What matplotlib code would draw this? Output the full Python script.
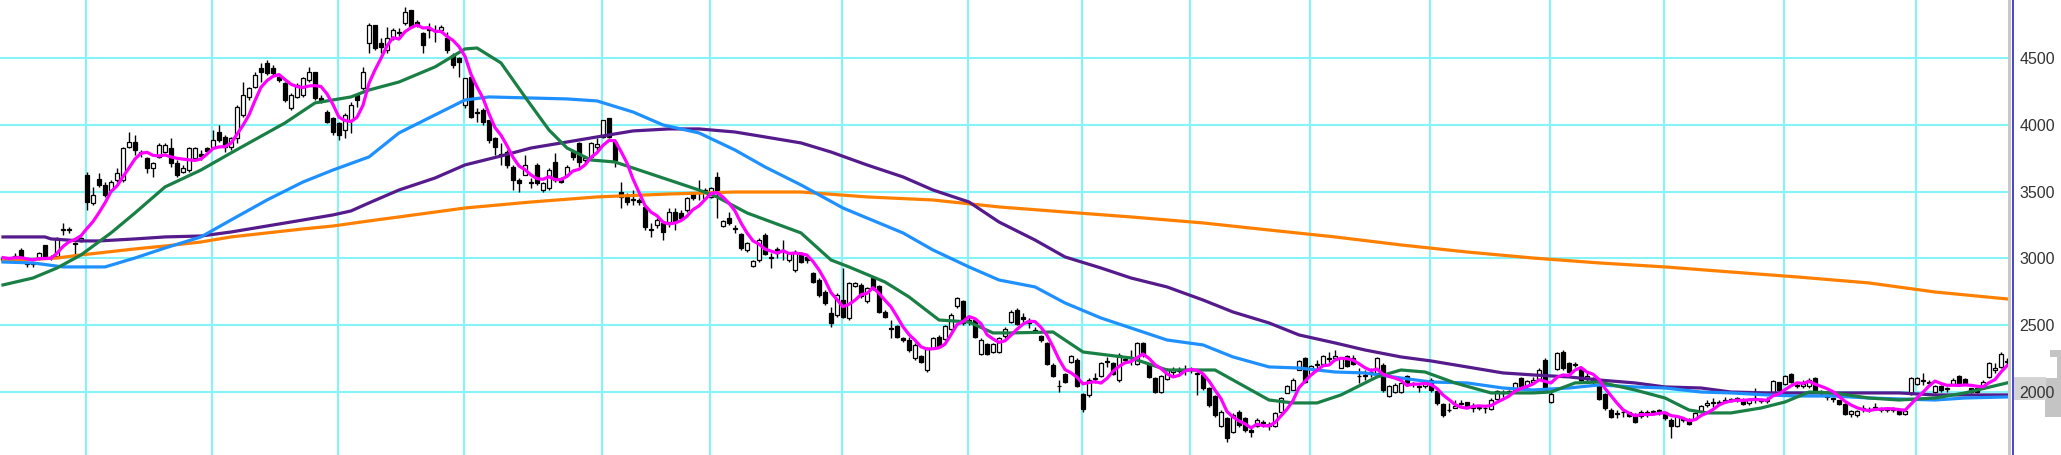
import numpy as np
import pandas as pd
import matplotlib
matplotlib.use("Agg")
import matplotlib.pyplot as plt
from matplotlib.lines import Line2D
from matplotlib.patches import Polygon, Rectangle

# ---------------- data (daily OHLC) ----------------
opens = [
 2985,2997,2990,3062,2960,2955,2995,3097,3000,3015,
 3215,3212,3115,3135,3625,3412,3592,3550,3512,3587,
 3587,3837,3875,3800,3750,3675,3762,3800,3825,3712,
 3650,3662,3750,3780,3830,3837,3950,3912,3837,3900,
 4075,4212,4287,4425,4462,4425,4362,4312,4125,4212,
 4225,4337,4400,4200,4100,4050,4012,3962,4037,4225,
 4275,4612,4750,4612,4562,4650,4687,4762,4862,4770,
 4687,4725,4715,4712,4650,4525,4500,4150,4362,4100,
 4112,4037,3900,3785,3800,3687,3587,3625,3562,3700,
 3512,3525,3725,3587,3625,3800,3862,3737,3762,3837,
 3912,4050,3875,3500,3462,3440,3437,3387,3215,3250,
 3262,3275,3350,3337,3362,3487,3487,3450,3462,3612,
 3240,3300,3230,3180,3060,2945,2985,3175,3010,3070,
 3060,2985,2910,3040,3010,2890,2840,2750,2587,2575,
 2687,2550,2795,2800,2680,2850,2790,2600,2475,2490,
 2400,2390,2250,2270,2160,2330,2410,2395,2470,2640,
 2680,2530,2540,2285,2355,2295,2295,2420,2520,2615,
 2560,2520,2465,2420,2365,2200,2045,2130,2220,2240,
 1980,1975,2095,2120,2230,2215,2085,2245,2255,2210,
 2365,2205,2100,2000,2095,2150,2155,2160,2165,2140,
 2125,2025,1965,1745,1800,1700,1850,1800,1710,1745,
 1775,1755,1745,1845,1990,2015,2165,2250,2130,2200,
 2205,2245,2255,2180,2265,2255,2115,2125,2145,2140,
 2200,1970,2000,1995,2115,2055,2035,2040,2085,2005,
 1905,1860,1880,1905,1920,1880,1880,1875,1870,1945,
 1990,1995,2010,2100,2040,2075,2095,2240,1925,2170,
 2300,2215,2200,2180,2105,2090,2040,1980,1865,1835,
 1845,1845,1830,1815,1840,1850,1855,1850,1790,1745,
 1800,1795,1795,1855,1900,1915,1915,1925,1935,1935,
 1940,1915,1950,1940,1930,1995,2070,2055,2130,2045,
 2045,2040,2105,2005,1975,1955,1935,1905,1830,1825,
 1870,1870,1885,1860,1860,1860,1860,1835,1985,2060,
 2080,2065,1995,2045,2020,2055,2115,2095,2025,2025,
 2030,2110,2165,2185,2225]
highs = [
 3012,3007,3037,3075,2975,2975,3050,3100,3025,3162,
 3262,3237,3125,3157,3650,3537,3637,3575,3587,3675,
 3837,3950,3925,3812,3762,3725,3862,3862,3900,3737,
 3700,3837,3837,3812,3837,3962,4000,3925,3912,4150,
 4325,4287,4400,4462,4487,4450,4375,4325,4237,4312,
 4362,4437,4400,4225,4112,4062,4025,4087,4175,4237,
 4437,4762,4750,4650,4737,4725,4725,4887,4862,4787,
 4700,4762,4750,4750,4700,4537,4512,4350,4362,4125,
 4125,4037,3912,3862,3812,3700,3600,3775,3600,3712,
 3575,3675,3787,3612,3700,3812,3875,3762,3875,3900,
 4037,4050,3875,3575,3487,3512,3450,3400,3262,3300,
 3275,3375,3375,3362,3462,3500,3587,3525,3537,3650,
 3287,3350,3250,3187,3125,2987,3150,3187,3037,3087,
 3137,3050,3062,3050,3025,2900,2850,2762,2637,2737,
 2925,2825,2825,2812,2787,2862,2800,2612,2537,2500,
 2412,2412,2362,2275,2337,2412,2425,2500,2587,2712,
 2687,2562,2550,2400,2362,2362,2412,2487,2612,2625,
 2587,2550,2487,2425,2375,2212,2087,2137,2275,2250,
 1987,2100,2137,2225,2262,2225,2287,2262,2312,2375,
 2375,2212,2112,2125,2175,2187,2187,2200,2187,2150,
 2137,2037,1975,1862,1812,1837,1862,1812,1737,1800,
 1790,1775,1850,1962,2050,2100,2237,2262,2200,2237,
 2275,2300,2312,2262,2275,2275,2175,2162,2175,2262,
 2212,2050,2062,2075,2125,2075,2050,2087,2100,2012,
 1912,1912,1937,1937,1925,1912,1900,1900,1950,2012,
 2012,2012,2075,2112,2087,2112,2175,2250,2012,2300,
 2312,2225,2225,2187,2137,2112,2050,1987,1875,1862,
 1862,1850,1837,1862,1862,1862,1867,1850,1800,1825,
 1812,1800,1850,1900,1937,1950,1937,1962,1950,1962,
 1950,1950,2025,1950,1962,2087,2075,2125,2137,2075,
 2087,2100,2112,2012,1975,1962,1937,1912,1862,1862,
 1900,1887,1912,1887,1887,1887,1862,1862,2112,2112,
 2137,2087,2050,2050,2037,2100,2125,2100,2025,2025,
 2087,2225,2212,2300,2250]
lows = [
 2975,2982,2975,2997,2937,2937,2987,3012,2987,3012,
 3175,3187,3012,3125,3362,3400,3537,3462,3500,3575,
 3575,3825,3775,3762,3637,3612,3750,3787,3687,3612,
 3637,3650,3737,3737,3787,3825,3875,3800,3812,3862,
 4062,4187,4275,4325,4375,4375,4325,4175,4112,4200,
 4212,4325,4187,4162,4012,3925,3887,3900,3937,4137,
 4262,4537,4562,4537,4537,4637,4662,4750,4725,4737,
 4537,4650,4625,4687,4537,4425,4362,4125,4050,4025,
 4000,3862,3775,3700,3675,3512,3500,3625,3525,3550,
 3500,3512,3575,3562,3612,3737,3687,3712,3737,3812,
 3900,3900,3687,3375,3400,3400,3400,3212,3162,3225,
 3137,3237,3212,3287,3350,3437,3437,3437,3450,3300,
 3237,3250,3187,3062,3050,2937,2975,3025,2925,3000,
 2987,2975,2900,2962,2962,2812,2712,2650,2487,2562,
 2550,2537,2787,2700,2662,2762,2587,2550,2400,2400,
 2375,2300,2237,2212,2150,2325,2337,2387,2462,2630,
 2500,2500,2400,2275,2275,2287,2287,2400,2512,2500,
 2525,2475,2437,2375,2200,2112,2000,2062,2212,2037,
 1850,1962,2062,2112,2187,2125,2075,2212,2200,2200,
 2262,2100,1987,1987,2087,2112,2137,2125,2137,1975,
 2012,1887,1812,1737,1625,1687,1737,1700,1662,1737,
 1737,1712,1737,1837,1987,2012,2162,2062,2125,2162,
 2200,2225,2237,2175,2187,2200,2062,2087,2112,2125,
 2000,1962,1987,1987,2050,2037,2000,2025,2000,1900,
 1812,1850,1875,1900,1875,1850,1862,1837,1862,1937,
 1962,1975,2000,2037,2025,2062,2087,2000,1912,2162,
 2162,2137,2187,2075,2062,2050,1937,1862,1800,1800,
 1812,1812,1762,1800,1812,1825,1825,1787,1650,1737,
 1775,1750,1787,1850,1887,1887,1900,1912,1925,1925,
 1900,1900,1912,1912,1912,1987,2000,2050,2062,2025,
 2025,2025,2000,1975,1937,1925,1900,1825,1812,1812,
 1850,1850,1862,1850,1850,1850,1825,1825,1975,2050,
 2050,2050,1987,2000,2000,2050,2050,2050,1987,1987,
 2025,2100,2137,2175,2200]
closes = [
 3005,2992,3015,3005,2962,2965,3040,3020,3012,3150,
 3220,3215,3110,3150,3425,3475,3550,3475,3575,3637,
 3825,3875,3812,3787,3675,3712,3850,3850,3712,3625,
 3680,3825,3825,3770,3805,3887,3887,3837,3900,4137,
 4225,4275,4375,4400,4387,4387,4340,4187,4225,4300,
 4350,4400,4200,4190,4025,3950,3925,4075,4150,4187,
 4400,4750,4575,4587,4650,4712,4697,4850,4737,4750,
 4600,4712,4710,4737,4562,4450,4475,4350,4062,4090,
 4025,3887,3837,3775,3700,3587,3562,3700,3575,3562,
 3562,3662,3587,3575,3687,3762,3725,3750,3862,3860,
 4037,3912,3737,3462,3425,3437,3420,3237,3212,3287,
 3200,3350,3275,3300,3450,3450,3490,3512,3525,3487,
 3280,3262,3220,3075,3115,2980,3140,3035,3000,3040,
 3065,3040,3050,2975,2990,2825,2725,2662,2512,2725,
 2560,2815,2818,2715,2775,2775,2600,2560,2470,2410,
 2390,2310,2350,2220,2325,2400,2345,2490,2575,2700,
 2515,2535,2410,2390,2285,2355,2405,2470,2600,2510,
 2545,2515,2455,2385,2210,2120,2040,2070,2265,2045,
 1870,2090,2100,2215,2220,2135,2275,2235,2260,2365,
 2275,2110,2000,2115,2165,2160,2165,2170,2170,2135,
 2025,1900,1825,1850,1650,1825,1750,1715,1700,1790,
 1765,1745,1840,1950,2040,2090,2230,2075,2190,2210,
 2265,2255,2265,2255,2195,2210,2120,2115,2150,2250,
 2015,2040,2050,2065,2060,2065,2040,2080,2015,1915,
 1825,1865,1895,1915,1880,1890,1885,1880,1940,2005,
 2000,2005,2065,2045,2080,2085,2165,2010,1985,2290,
 2175,2145,2210,2085,2115,2100,1945,1875,1810,1840,
 1850,1820,1775,1850,1845,1855,1860,1800,1740,1815,
 1790,1760,1840,1895,1915,1920,1925,1940,1945,1950,
 1910,1945,1955,1930,1935,2080,2010,2120,2070,2050,
 2055,2090,2015,1990,1960,1945,1905,1835,1855,1855,
 1875,1865,1880,1870,1870,1870,1835,1855,2100,2100,
 2085,2070,2040,2010,2030,2090,2060,2060,1995,1995,
 2070,2215,2175,2280,2230]

# moving-average lines (sample day index -> price)
ma25_idx = [0,5,9,13,18,22,27,33,38,44,47,52,58,61,66,72,77,79,83,87,91,94,98,102,105,111,
            116,119,124,133,138,141,147,151,156,161,165,168,175,180,188,194,200,202,211,215,
            219,223,229,233,237,242,248,255,258,262,266,272,277,281,284,288,293,297,301,305,
            311,316,322,327,334]
ma25_val = [2800,2852,2927,3025,3190,3340,3535,3662,3790,3940,4015,4165,4210,4262,4322,4435,
            4570,4577,4465,4210,3962,3827,3737,3722,3677,3587,3512,3460,3340,3190,2987,2935,
            2822,2710,2537,2522,2440,2440,2447,2297,2252,2162,2162,2162,1937,1915,1915,1975,
            2110,2162,2147,2065,1990,1990,1997,2065,2072,2012,1952,1862,1840,1840,1877,1922,
            1997,1990,1952,1937,1952,1990,2065]

ma75_idx = [0,5,10,17,22,27,33,38,44,50,55,61,66,72,77,81,88,94,99,105,110,116,122,127,133,
            140,144,150,155,161,166,172,177,183,188,194,200,205,211,216,222,227,233,238,244,
            250,255,261,266,272,277,283,288,294,299,305,311,316,322,327,334]
ma75_val = [2972,2965,2935,2935,3002,3077,3160,3287,3437,3572,3662,3760,3940,4075,4187,4210,
            4202,4195,4180,4097,4000,3940,3812,3685,3550,3377,3302,3190,3062,2935,2837,2785,
            2665,2552,2477,2387,2350,2260,2185,2177,2147,2140,2102,2072,2065,2027,2012,2027,
            2050,2035,2027,1997,1990,1975,1967,1967,1952,1945,1937,1952,1960]

ma150_idx = [0,7,8,13,16,22,27,33,38,44,50,55,58,61,66,72,77,83,88,94,99,105,111,116,122,127,
             133,138,144,150,155,161,166,172,177,183,188,194,200,205,211,216,222,227,233,238,
             244,250,255,261,266,272,277,283,288,294,299,305,311,316,322,327,334]
ma150_val = [3160,3160,3145,3130,3130,3145,3160,3167,3197,3242,3287,3325,3355,3415,3512,3602,
             3700,3767,3827,3872,3910,3955,3970,3970,3947,3910,3865,3797,3700,3610,3512,3422,
             3272,3137,3010,2927,2852,2785,2687,2597,2515,2425,2365,2312,2260,2230,2185,2140,
             2125,2110,2087,2065,2035,2027,1997,1990,1990,1990,1990,1990,1975,1975,1975]

ma300_idx = [0,9,13,22,27,33,38,44,50,55,61,66,77,88,99,111,122,133,144,155,166,177,188,200,
             211,222,233,244,255,266,277,288,299,311,322,334]
ma300_val = [2980,3002,3025,3070,3092,3122,3160,3190,3220,3242,3280,3310,3377,3422,3460,3482,
             3497,3497,3460,3437,3385,3347,3310,3265,3212,3160,3100,3047,3002,2965,2935,2897,
             2860,2815,2747,2695]

price_ticks = [2000, 2500, 3000, 3500, 4000, 4500]
tick_labels = ["2000", "2500", "3000", "3500", "4000", "4500"]
month_starts = [14, 35, 56, 77, 100, 118, 140, 161, 180, 198, 218, 238, 258, 277, 297, 319]

# ---------------- figure ----------------
W, H = 2061, 455
fig = plt.figure(figsize=(W / 100, H / 100), dpi=100)
fig.patch.set_facecolor("white")
PLOT_W = 2011

def fx(px):
    return px / W

def fy(py):
    return 1 - py / H

# grey decorations behind the price scale (drawn first)
fig.add_artist(Polygon([(fx(2050), fy(350)), (fx(2061), fy(350)), (fx(2061), fy(417)),
                        (fx(2045), fy(417)), (fx(2045), fy(378)), (fx(2057), fy(378)),
                        (fx(2057), fy(357)), (fx(2050), fy(357))],
                       closed=True, transform=fig.transFigure,
                       facecolor="#C4C4C4", edgecolor="none", zorder=-2))
fig.add_artist(Rectangle((fx(2014), fy(400)), fx(32), 23 / H, transform=fig.transFigure,
                         facecolor="#D4D4D4", edgecolor="none", zorder=-2))

ax = fig.add_axes([0, 0, PLOT_W / W, 1])
ax.set_facecolor("white")
ax.set_xlim(-0.5, -0.5 + PLOT_W / 6.0)
ax.set_ylim(1524.5, 4937)

GRID = "#86F3F6"
for m in month_starts:
    ax.axvline(m - 0.25, color=GRID, lw=1.5, zorder=0)
for v in price_ticks:
    ax.axhline(v, color=GRID, lw=1.5, zorder=0)

o = np.array(opens, float)
h = np.array(highs, float)
l = np.array(lows, float)
c = np.array(closes, float)
x = np.arange(len(c))
up = c >= o

ax.vlines(x, l, h, color="black", lw=1.0, zorder=2)
body_bottom = np.minimum(o, c)
body_h = np.maximum(np.abs(c - o), 5)
ax.bar(x, body_h, 0.66, bottom=body_bottom,
       color=["white" if u else "black" for u in up],
       edgecolor="black", linewidth=0.9, zorder=3)

LW = 2.3
ax.plot(ma300_idx, ma300_val, color="#FF8000", lw=LW, zorder=4)
ax.plot(ma150_idx, ma150_val, color="#551A8B", lw=LW, zorder=5)
ax.plot(ma75_idx, ma75_val, color="#1E90FF", lw=LW, zorder=6)
ax.plot(ma25_idx, ma25_val, color="#1A7F45", lw=LW, zorder=7)
ma5 = pd.Series(c).rolling(5, min_periods=1).mean()
ax.plot(x, ma5, color="#FF00FF", lw=LW, zorder=8)

ax.yaxis.tick_right()
ax.set_yticks(price_ticks)
ax.set_yticklabels(tick_labels, family="Liberation Sans")
ax.tick_params(axis="y", length=0, pad=6, labelsize=11.5, labelcolor="#333333")
ax.set_xticks([])
for s in ax.spines.values():
    s.set_visible(False)

# right-edge separator lines
fig.add_artist(Rectangle((fx(2008), 0), fx(3), 1, transform=fig.transFigure,
                         facecolor="#C8C8C8", edgecolor="none", zorder=5))
fig.add_artist(Line2D([fx(2012.5), fx(2012.5)], [0, 1], transform=fig.transFigure,
                      color="#3838C8", lw=1.3, zorder=6))

fig.savefig("out.png", dpi=100, facecolor="white")
